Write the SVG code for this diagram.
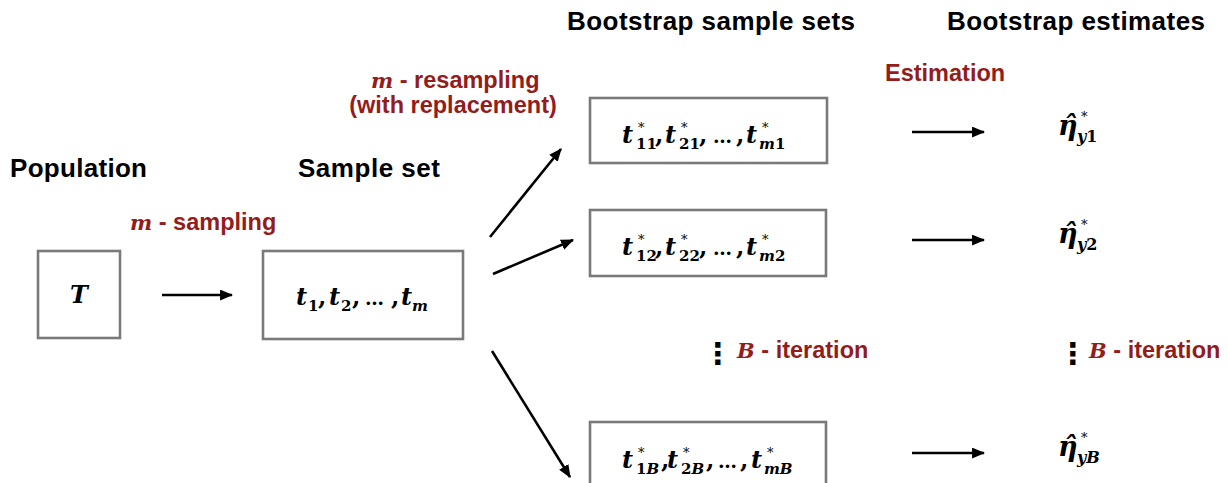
<svg xmlns="http://www.w3.org/2000/svg" width="1228" height="483" viewBox="0 0 1228 483">
<style>
.hd{font-family:"Liberation Sans",Arial,sans-serif;font-weight:bold;font-size:26px;fill:#000}
.rl{font-family:"Liberation Sans",Arial,sans-serif;font-weight:bold;font-size:23.5px;fill:#931c1c}
.rm{font-family:"DejaVu Serif","Liberation Serif",serif;font-style:italic;font-weight:bold;font-size:21px}
.box{fill:#fff;stroke:#7a7a7a;stroke-width:2.6}
.mt{font-family:"DejaVu Serif","Liberation Serif",serif;font-weight:bold;font-size:24px;fill:#000}
.it{font-style:italic}
.sb{font-size:15px}
.sp{font-size:13px;font-weight:normal}
.el{font-size:19px}
.eta{font-family:"DejaVu Serif",serif;font-weight:bold;font-style:italic;font-size:27px}
.esb{font-size:16px}
.dots{font-family:"DejaVu Sans",sans-serif;font-weight:bold;font-size:30px;fill:#000}
.arr{stroke:#000;stroke-width:2.6;fill:none;marker-end:url(#ah)}
</style>
<defs>
<marker id="ah" markerUnits="userSpaceOnUse" viewBox="0 0 12 10" refX="11" refY="5" markerWidth="13" markerHeight="11" orient="auto">
<path d="M0,0 L12,5 L0,10 z" fill="#000"/>
</marker>
</defs>
<rect width="1228" height="483" fill="#fff"/>

<g id="headers">
<text class="hd" x="10" y="177" textLength="137">Population</text>
<text class="hd" x="298" y="177" textLength="142">Sample set</text>
<text class="hd" x="567" y="30" textLength="288">Bootstrap sample sets</text>
<text class="hd" x="947" y="30" textLength="258">Bootstrap estimates</text>
</g>

<g id="labels">
<text class="rl" x="130" y="230"><tspan class="rm">m</tspan> - sampling</text>
<text class="rl" x="371" y="88"><tspan class="rm">m</tspan> - resampling</text>
<text class="rl" x="453" y="113" text-anchor="middle">(with replacement)</text>
<text class="rl" x="885" y="81">Estimation</text>
<text class="dots" x="703" y="364">⋮</text>
<text class="rl" x="737" y="358"><tspan class="rm">B</tspan> - iteration</text>
<text class="dots" x="1058" y="364">⋮</text>
<text class="rl" x="1089" y="358"><tspan class="rm">B</tspan> - iteration</text>
</g>

<g id="population">
<rect class="box" x="38" y="251" width="82" height="87"/>
<text class="mt it" x="79" y="303" font-size="22" text-anchor="middle">T</text>
</g>

<g id="sample-set">
<rect class="box" x="263" y="251" width="200" height="88"/>
<text class="mt"><tspan class="it" x="296" y="305">t</tspan><tspan class="sb" x="308" y="311">1</tspan><tspan x="318" y="305">,</tspan><tspan class="it" x="329" y="305">t</tspan><tspan class="sb" x="341" y="311">2</tspan><tspan x="352" y="305">,</tspan><tspan class="el" x="365" y="305">…</tspan><tspan x="391" y="305">,</tspan><tspan class="it" x="401" y="305">t</tspan><tspan class="sb it" x="412" y="311">m</tspan></text>
</g>

<g id="boot-1">
<rect class="box" x="590" y="98" width="237" height="65"/>
<text class="mt"><tspan class="it" x="622" y="143">t</tspan><tspan class="sp" x="638" y="132">*</tspan><tspan class="sb" x="636" y="149">11</tspan><tspan x="655" y="143">,</tspan><tspan class="it" x="665" y="143">t</tspan><tspan class="sp" x="681" y="132">*</tspan><tspan class="sb" x="679" y="149">21</tspan><tspan x="699" y="143">,</tspan><tspan class="el" x="713" y="143">…</tspan><tspan x="736" y="143">,</tspan><tspan class="it" x="746" y="143">t</tspan><tspan class="sp" x="762" y="132">*</tspan><tspan class="sb" x="759" y="149"><tspan class="it">m</tspan>1</tspan></text>
</g>

<g id="boot-2">
<rect class="box" x="590" y="210" width="236" height="66"/>
<text class="mt"><tspan class="it" x="622" y="255">t</tspan><tspan class="sp" x="638" y="244">*</tspan><tspan class="sb" x="636" y="261">12</tspan><tspan x="655" y="255">,</tspan><tspan class="it" x="665" y="255">t</tspan><tspan class="sp" x="681" y="244">*</tspan><tspan class="sb" x="679" y="261">22</tspan><tspan x="699" y="255">,</tspan><tspan class="el" x="713" y="255">…</tspan><tspan x="736" y="255">,</tspan><tspan class="it" x="746" y="255">t</tspan><tspan class="sp" x="762" y="244">*</tspan><tspan class="sb" x="759" y="261"><tspan class="it">m</tspan>2</tspan></text>
</g>

<g id="boot-B">
<rect class="box" x="590" y="422" width="236" height="70"/>
<text class="mt"><tspan class="it" x="622" y="468">t</tspan><tspan class="sp" x="638" y="457">*</tspan><tspan class="sb" x="636" y="474">1<tspan class="it">B</tspan></tspan><tspan x="661" y="468">,</tspan><tspan class="it" x="667" y="468">t</tspan><tspan class="sp" x="683" y="457">*</tspan><tspan class="sb" x="681" y="474">2<tspan class="it">B</tspan></tspan><tspan x="706" y="468">,</tspan><tspan class="el" x="718" y="468">…</tspan><tspan x="740" y="468">,</tspan><tspan class="it" x="751" y="468">t</tspan><tspan class="sp" x="767" y="457">*</tspan><tspan class="sb it" x="764" y="474">mB</tspan></text>
</g>

<g id="est-1">
<text class="mt"><tspan class="eta" x="1058" y="135">η̂</tspan><tspan class="sp" x="1081" y="121">*</tspan><tspan class="esb" x="1077" y="142"><tspan class="it">y</tspan>1</tspan></text>
</g>
<g id="est-2">
<text class="mt"><tspan class="eta" x="1058" y="243">η̂</tspan><tspan class="sp" x="1081" y="229">*</tspan><tspan class="esb" x="1077" y="250"><tspan class="it">y</tspan>2</tspan></text>
</g>
<g id="est-B">
<text class="mt"><tspan class="eta" x="1058" y="456">η̂</tspan><tspan class="sp" x="1081" y="442">*</tspan><tspan class="esb it" x="1077" y="463">yB</tspan></text>
</g>

<g id="connectors">
<line class="arr" x1="162" y1="295" x2="232" y2="295"/>
<line class="arr" x1="490" y1="237" x2="561" y2="149"/>
<line class="arr" x1="493" y1="274" x2="573" y2="240"/>
<line class="arr" x1="492" y1="351" x2="570" y2="477"/>
<line class="arr" x1="912" y1="132" x2="984" y2="132"/>
<line class="arr" x1="912" y1="240" x2="984" y2="240"/>
<line class="arr" x1="912" y1="453" x2="984" y2="453"/>
</g>
</svg>
